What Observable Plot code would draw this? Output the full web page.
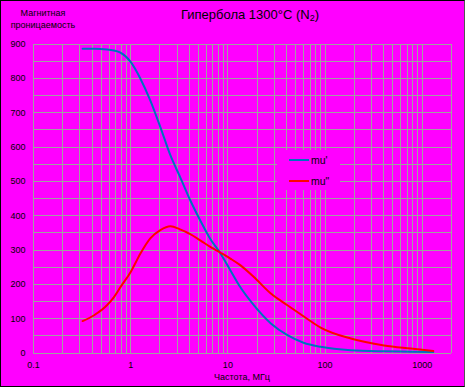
<!DOCTYPE html>
<html>
<head>
<meta charset="utf-8">
<script src="https://cdn.jsdelivr.net/npm/d3@7"></script>
<script src="https://cdn.jsdelivr.net/npm/@observablehq/plot@0.6"></script>
<style>
  html, body { margin: 0; padding: 0; background: #ff00ff; }
  #wrap { position: relative; width: 465px; height: 387px; overflow: hidden; font-family: "Liberation Sans", Arial, sans-serif; }
  .ov { position: absolute; white-space: nowrap; color: #000; }
  #frame { position: absolute; left: 0; top: 0; width: 465px; height: 387px; box-sizing: border-box; border: 1px solid #000; border-right-color: #555; pointer-events: none; }
</style>
</head>
<body>
<div id="wrap"></div>
<script>
const freq   = [0.32, 0.42, 0.57, 0.67, 0.785, 1, 1.26, 1.59, 2.02, 2.56, 3.22, 4.1, 5.2, 6.6, 8.4, 10.6, 13.4, 18.4, 27.7, 41, 60, 90, 184, 405, 765, 1300];
const muReal = [886, 886, 884, 881, 875, 848, 799, 736, 658, 576, 513, 445, 386, 332, 290, 241, 192, 140, 86, 52, 30, 18, 8, 5, 4, 3];
const muImag = [93, 110, 139, 162, 192, 236, 290, 334, 358, 369, 360, 346, 328, 309, 292, 275, 256, 222, 173, 139, 107, 74, 42, 22, 13, 6];

const xTickLabels = [0.1, 1, 10, 100, 1000];
const yTickLabels = [0, 100, 200, 300, 400, 500, 600, 700, 800, 900];
const xGrid = [0.1, 1, 10, 100].flatMap(d => [1,2,3,4,5,6,7,8,9].map(k => k * d)).concat([1000, 2000]);
const yGrid = d3.range(0, 901, 50);

const seriesNames = ["mu'", "mu\""];
const seriesColors = ["#0070c0", "#ff0000"];

const data = freq.flatMap((f, i) => [
  {f, v: muReal[i], s: seriesNames[0]},
  {f, v: muImag[i], s: seriesNames[1]}
]);

const chart = Plot.plot({
  width: 465,
  height: 387,
  marginLeft: 33,
  marginRight: 14,
  marginTop: 43.5,
  marginBottom: 34.5,
  style: { background: "#ff00ff", fontFamily: "Liberation Sans, Arial, sans-serif", fontSize: "9px", color: "#000" },
  x: { type: "log", domain: [0.1, 2000] },
  y: { domain: [0, 900] },
  color: { domain: seriesNames, range: seriesColors },
  marks: [
    Plot.ruleX(xGrid, { stroke: "#a0a0a0", strokeWidth: 1, shapeRendering: "crispEdges" }),
    Plot.ruleY(yGrid, { stroke: "#a0a0a0", strokeWidth: 1, shapeRendering: "crispEdges" }),
    Plot.axisX({ ticks: xTickLabels, tickSize: 0, tickPadding: 9, tickFormat: d => String(d), label: null, fontSize: 9 }),
    Plot.axisY({ ticks: yTickLabels, tickSize: 0, tickPadding: 8, tickFormat: d => String(d), label: null, fontSize: 9 }),
    Plot.line(data, { x: "f", y: "v", z: "s", stroke: "s", strokeWidth: 2, curve: "monotone-x" })
  ]
});

const wrap = document.getElementById("wrap");
wrap.appendChild(chart);

function addText(html, left, top, size, align) {
  const d = document.createElement("div");
  d.className = "ov";
  d.innerHTML = html;
  d.style.fontSize = size + "px";
  d.style.top = top + "px";
  if (align === "center") { d.style.left = left + "px"; d.style.transform = "translateX(-50%)"; }
  else d.style.left = left + "px";
  wrap.appendChild(d);
  return d;
}

addText("Гипербола 1300°C (N<sub style='font-size:9px;vertical-align:-2px'>2</sub>)", 250, 7, 13, "center");
addText("Магнитная", 43, 8, 9, "center");
addText("проницаемость", 43, 20, 9, "center");
addText("Частота, МГц", 242, 372, 9, "center");

// legend
const leg = document.createElement("div");
leg.style.cssText = "position:absolute;left:277px;top:150px;width:63px;height:40px;background:#ff00ff;";
seriesNames.forEach((name, i) => {
  const row = document.createElement("div");
  row.style.cssText = `position:absolute;left:12px;top:${4 + i * 21}px;height:12px;display:flex;align-items:center;`;
  row.innerHTML = `<span style="display:inline-block;width:20px;height:2px;background:${seriesColors[i]};margin-right:2px"></span><span style="font-size:10.5px">${name}</span>`;
  leg.appendChild(row);
});
wrap.appendChild(leg);

const fr = document.createElement("div");
fr.id = "frame";
wrap.appendChild(fr);
</script>
</body>
</html>
